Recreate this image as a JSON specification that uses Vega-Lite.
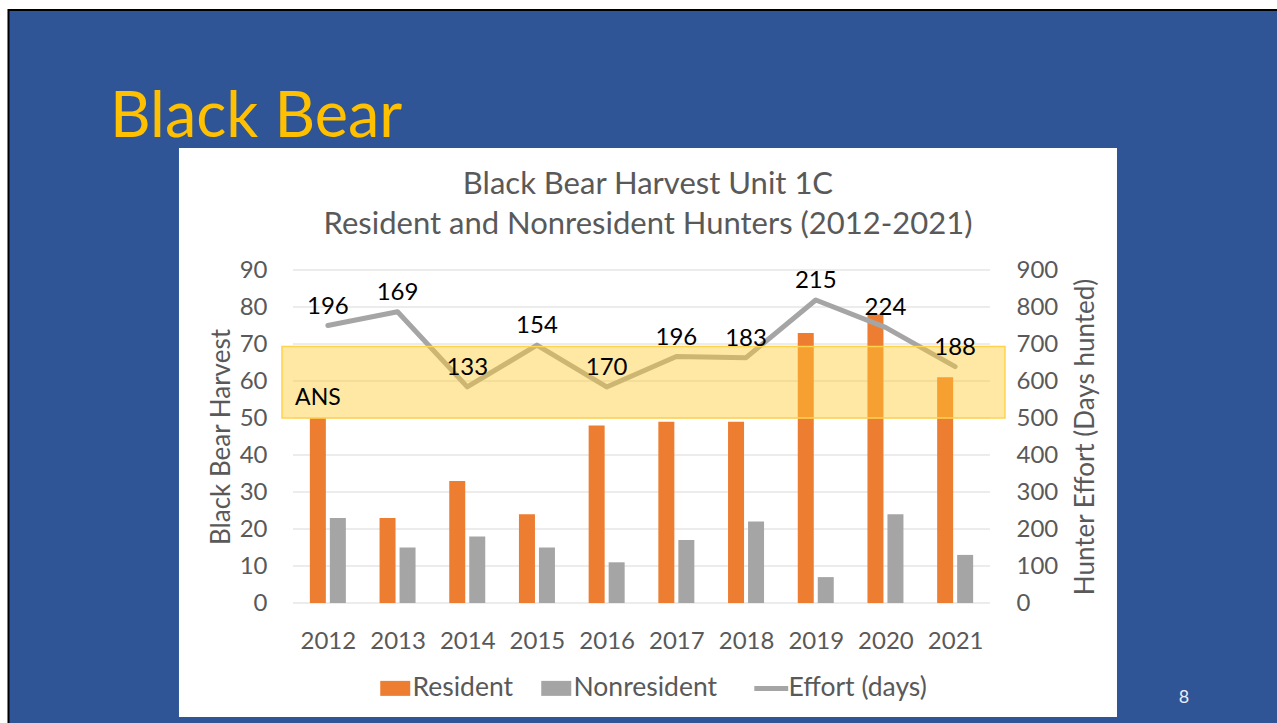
{
  "$schema": "https://vega.github.io/schema/vega-lite/v6.json",
  "width": 697,
  "height": 333,
  "autosize": "none",
  "padding": {"left": 293, "top": 270, "right": 287, "bottom": 120},
  "background": "white",
  "config": {"view": {"stroke": null}, "font": "Lato"},
  "datasets": {
    "harvest": [
      {"year": 2012, "series": "Resident", "value": 50},
      {"year": 2013, "series": "Resident", "value": 23},
      {"year": 2014, "series": "Resident", "value": 33},
      {"year": 2015, "series": "Resident", "value": 24},
      {"year": 2016, "series": "Resident", "value": 48},
      {"year": 2017, "series": "Resident", "value": 49},
      {"year": 2018, "series": "Resident", "value": 49},
      {"year": 2019, "series": "Resident", "value": 73},
      {"year": 2020, "series": "Resident", "value": 78},
      {"year": 2021, "series": "Resident", "value": 61},
      {"year": 2012, "series": "Nonresident", "value": 23},
      {"year": 2013, "series": "Nonresident", "value": 15},
      {"year": 2014, "series": "Nonresident", "value": 18},
      {"year": 2015, "series": "Nonresident", "value": 15},
      {"year": 2016, "series": "Nonresident", "value": 11},
      {"year": 2017, "series": "Nonresident", "value": 17},
      {"year": 2018, "series": "Nonresident", "value": 22},
      {"year": 2019, "series": "Nonresident", "value": 7},
      {"year": 2020, "series": "Nonresident", "value": 24},
      {"year": 2021, "series": "Nonresident", "value": 13}
    ],
    "effort": [
      {"year": 2012, "effort": 750, "label": "196"},
      {"year": 2013, "effort": 787, "label": "169"},
      {"year": 2014, "effort": 584, "label": "133"},
      {"year": 2015, "effort": 697, "label": "154"},
      {"year": 2016, "effort": 584, "label": "170"},
      {"year": 2017, "effort": 666, "label": "196"},
      {"year": 2018, "effort": 663, "label": "183"},
      {"year": 2019, "effort": 819, "label": "215"},
      {"year": 2020, "effort": 745, "label": "224"},
      {"year": 2021, "effort": 639, "label": "188"}
    ],
    "grid": [
      {"v": 0}, {"v": 10}, {"v": 20}, {"v": 30}, {"v": 40},
      {"v": 50}, {"v": 60}, {"v": 70}, {"v": 80}, {"v": 90}
    ],
    "blank": [{}]
  },
  "resolve": {"scale": {"y": "independent"}},
  "layer": [
    {
      "layer": [
        {
          "data": {"name": "blank"},
          "mark": {"type": "rect", "fill": "#2F5597", "stroke": "#000000", "strokeWidth": 2},
          "encoding": {
            "x": {
              "datum": 2007.418, "type": "quantitative",
              "scale": {"domain": [2011.5, 2021.5], "nice": false, "zero": false, "padding": 0},
              "axis": {
                "values": [2012, 2013, 2014, 2015, 2016, 2017, 2018, 2019, 2020, 2021],
                "format": "d", "grid": false, "ticks": false, "domain": false,
                "labelFont": "Lato", "labelFontSize": 24, "labelColor": "#595959",
                "labelPadding": 26, "labelOverlap": false, "title": null, "zindex": 1
              }
            },
            "x2": {"datum": 2025.95},
            "y": {
              "datum": 160.27, "type": "quantitative",
              "scale": {"domain": [0, 90], "nice": false, "zero": false},
              "axis": {
                "orient": "left",
                "values": [0, 10, 20, 30, 40, 50, 60, 70, 80, 90],
                "tickCount": 10,
                "grid": false, "ticks": false, "domain": false,
                "labelFont": "Lato", "labelFontSize": 24, "labelColor": "#595959",
                "labelPadding": 26, "labelOverlap": false, "labelSeparation": 0,
                "title": "Black Bear Harvest", "titleFont": "Lato", "titleFontSize": 26,
                "titleFontWeight": "normal", "titleColor": "#595959", "titlePadding": 5,
                "zindex": 1
              }
            },
            "y2": {"datum": -37}
          }
        },
        {
          "data": {"name": "blank"},
          "mark": {"type": "rect", "fill": "#FFFFFF"},
          "encoding": {
            "x": {"datum": 2009.864, "type": "quantitative", "scale": {"domain": [2011.5, 2021.5], "nice": false, "zero": false, "padding": 0}},
            "x2": {"datum": 2023.322},
            "y": {"datum": 122.97, "type": "quantitative", "scale": {"domain": [0, 90], "nice": false, "zero": false}},
            "y2": {"datum": -30.81}
          }
        },
        {
          "data": {"name": "grid"},
          "mark": {"type": "rule", "color": "#D9D9D9", "strokeWidth": 1.2},
          "encoding": {
            "x": {"datum": 2011.5, "type": "quantitative", "scale": {"domain": [2011.5, 2021.5], "nice": false, "zero": false, "padding": 0}},
            "x2": {"datum": 2021.5},
            "y": {"field": "v", "type": "quantitative", "scale": {"domain": [0, 90], "nice": false, "zero": false}}
          }
        },
        {
          "data": {"name": "harvest"},
          "transform": [{"filter": "datum.series === 'Resident'"}],
          "mark": {"type": "bar", "width": 16, "xOffset": -10},
          "encoding": {
            "x": {"field": "year", "type": "quantitative", "scale": {"domain": [2011.5, 2021.5], "nice": false, "zero": false, "padding": 0}},
            "y": {"field": "value", "type": "quantitative", "scale": {"domain": [0, 90], "nice": false, "zero": false}},
            "color": {
              "field": "series", "type": "nominal",
              "scale": {"domain": ["Resident", "Nonresident", "Effort (days)"], "range": ["#ED7D31", "#A5A5A5", "#A5A5A5"]},
              "legend": {
                "orient": "none", "legendX": 89, "legendY": 405,
                "direction": "horizontal", "title": null, "padding": 0,
                "labelFont": "Lato", "labelFontSize": 26.5, "labelColor": "#595959",
                "labelOffset": 4, "columnPadding": 27, "symbolSize": 900,
                "symbolStrokeWidth": 0, "zindex": 1,
                "encode": {
                  "symbols": {
                    "update": {
                      "shape": {"signal": "datum.value === 'Effort (days)' ? 'M-1.13,0H1.13' : 'M-1,-0.5H1V0.5H-1Z'"},
                      "size": {"value": 900},
                      "fill": {"signal": "datum.value === 'Resident' ? '#ED7D31' : '#A5A5A5'"},
                      "stroke": {"value": "#A5A5A5"},
                      "strokeWidth": {"signal": "datum.value === 'Effort (days)' ? 5 : 0"},
                      "opacity": {"value": 1}
                    }
                  }
                }
              }
            }
          }
        },
        {
          "data": {"name": "harvest"},
          "transform": [{"filter": "datum.series === 'Nonresident'"}],
          "mark": {"type": "bar", "width": 16, "xOffset": 10},
          "encoding": {
            "x": {"field": "year", "type": "quantitative", "scale": {"domain": [2011.5, 2021.5], "nice": false, "zero": false, "padding": 0}},
            "y": {"field": "value", "type": "quantitative", "scale": {"domain": [0, 90], "nice": false, "zero": false}},
            "color": {"field": "series", "type": "nominal"}
          }
        }
      ]
    },
    {
      "layer": [
        {
          "data": {"name": "effort"},
          "mark": {"type": "line", "strokeWidth": 5, "strokeJoin": "round", "strokeCap": "round"},
          "encoding": {
            "x": {"field": "year", "type": "quantitative", "scale": {"domain": [2011.5, 2021.5], "nice": false, "zero": false, "padding": 0}},
            "y": {
              "field": "effort", "type": "quantitative",
              "scale": {"domain": [0, 900], "nice": false, "zero": false},
              "axis": {
                "orient": "right",
                "values": [0, 100, 200, 300, 400, 500, 600, 700, 800, 900],
                "tickCount": 10,
                "grid": false, "ticks": false, "domain": false,
                "labelFont": "Lato", "labelFontSize": 24, "labelColor": "#595959",
                "labelPadding": 26, "labelAlign": "left", "labelOverlap": false, "labelSeparation": 0,
                "title": "Hunter Effort (Days hunted)", "titleFont": "Lato", "titleFontSize": 26,
                "titleFontWeight": "normal", "titleColor": "#595959",
                "titleAngle": 270, "titleBaseline": "top", "titlePadding": 15,
                "zindex": 1
              }
            },
            "color": {"datum": "Effort (days)", "type": "nominal"}
          }
        },
        {
          "data": {"name": "blank"},
          "mark": {"type": "rect", "fill": "#FFCC33", "fillOpacity": 0.45, "stroke": "#FFD34D", "strokeWidth": 1.5},
          "encoding": {
            "x": {"datum": 2011.342, "type": "quantitative", "scale": {"domain": [2011.5, 2021.5], "nice": false, "zero": false, "padding": 0}},
            "x2": {"datum": 2021.715},
            "y": {"datum": 500, "type": "quantitative", "scale": {"domain": [0, 900], "nice": false, "zero": false}},
            "y2": {"datum": 693}
          }
        },
        {
          "data": {"name": "effort"},
          "mark": {"type": "text", "font": "Lato", "fontSize": 24, "color": "#000000", "baseline": "alphabetic", "dy": -12},
          "encoding": {
            "x": {"field": "year", "type": "quantitative", "scale": {"domain": [2011.5, 2021.5], "nice": false, "zero": false, "padding": 0}},
            "y": {"field": "effort", "type": "quantitative", "scale": {"domain": [0, 900], "nice": false, "zero": false}},
            "text": {"field": "label"}
          }
        },
        {
          "data": {"name": "blank"},
          "mark": {"type": "text", "font": "Lato", "fontSize": 23, "color": "#000000", "align": "left", "baseline": "alphabetic"},
          "encoding": {
            "x": {"datum": 2011.53, "type": "quantitative", "scale": {"domain": [2011.5, 2021.5], "nice": false, "zero": false, "padding": 0}},
            "y": {"datum": 535, "type": "quantitative", "scale": {"domain": [0, 900], "nice": false, "zero": false}},
            "text": {"value": "ANS"}
          }
        },
        {
          "data": {"name": "blank"},
          "mark": {"type": "text", "font": "Lato", "fontSize": 31, "color": "#595959", "align": "center", "baseline": "alphabetic"},
          "encoding": {
            "x": {"datum": 2016.593, "type": "quantitative", "scale": {"domain": [2011.5, 2021.5], "nice": false, "zero": false, "padding": 0}},
            "y": {"datum": 1105.4, "type": "quantitative", "scale": {"domain": [0, 900], "nice": false, "zero": false}},
            "text": {"value": "Black Bear Harvest Unit 1C"}
          }
        },
        {
          "data": {"name": "blank"},
          "mark": {"type": "text", "font": "Lato", "fontSize": 31, "color": "#595959", "align": "center", "baseline": "alphabetic"},
          "encoding": {
            "x": {"datum": 2016.593, "type": "quantitative", "scale": {"domain": [2011.5, 2021.5], "nice": false, "zero": false, "padding": 0}},
            "y": {"datum": 997.3, "type": "quantitative", "scale": {"domain": [0, 900], "nice": false, "zero": false}},
            "text": {"value": "Resident and Nonresident Hunters (2012-2021)"}
          }
        },
        {
          "data": {"name": "blank"},
          "mark": {"type": "text", "font": "Lato", "fontSize": 63, "color": "#FFC000", "align": "left", "baseline": "alphabetic"},
          "encoding": {
            "x": {"datum": 2008.874, "type": "quantitative", "scale": {"domain": [2011.5, 2021.5], "nice": false, "zero": false, "padding": 0}},
            "y": {"datum": 1259.5, "type": "quantitative", "scale": {"domain": [0, 900], "nice": false, "zero": false}},
            "text": {"value": "Black Bear"}
          }
        },
        {
          "data": {"name": "blank"},
          "mark": {"type": "text", "font": "Lato", "fontSize": 18, "color": "#E8EDF7", "align": "center", "baseline": "alphabetic"},
          "encoding": {
            "x": {"datum": 2024.283, "type": "quantitative", "scale": {"domain": [2011.5, 2021.5], "nice": false, "zero": false, "padding": 0}},
            "y": {"datum": -270.3, "type": "quantitative", "scale": {"domain": [0, 900], "nice": false, "zero": false}},
            "text": {"value": "8"}
          }
        }
      ]
    }
  ]
}
